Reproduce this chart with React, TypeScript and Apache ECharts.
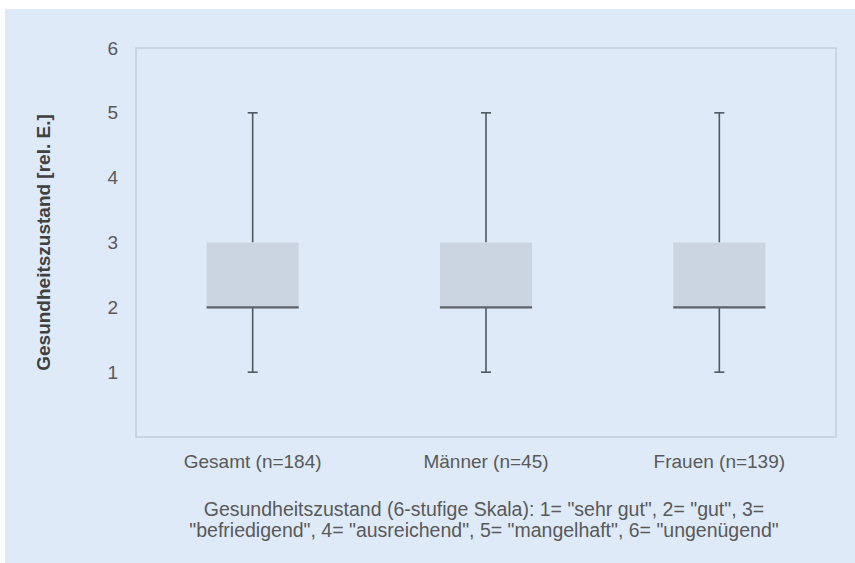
import React, { useEffect, useRef } from "react";
import * as echarts from "echarts";

const categories = ["Gesamt (n=184)", "Männer (n=45)", "Frauen (n=139)"];
const minVals = [1, 1, 1];
const q1Vals = [2, 2, 2];
const medianVals = [2, 2, 2];
const q3Vals = [3, 3, 3];
const maxVals = [5, 5, 5];
const yTicks = [0, 1, 2, 3, 4, 5, 6];
const yAxisTitle = "Gesundheitszustand [rel. E.]";
const footnote = [
  'Gesundheitszustand (6-stufige Skala): 1= "sehr gut", 2= "gut", 3=',
  '"befriedigend", 4= "ausreichend", 5= "mangelhaft", 6= "ungenügend"',
];

export default function App() {
  const ref = useRef<HTMLDivElement>(null);
  useEffect(() => {
    if (!ref.current) return;
    const chart = echarts.init(ref.current, null, { renderer: "svg" });
    const data = categories.map((_, i) => [
      i,
      minVals[i],
      q1Vals[i],
      medianVals[i],
      q3Vals[i],
      maxVals[i],
    ]);
    const font = "'Liberation Sans', Arial, sans-serif";
    chart.setOption({
      animation: false,
      backgroundColor: "#ffffff",
      graphic: [
        {
          type: "rect",
          z: -10,
          silent: true,
          shape: { x: 5, y: 9, width: 850, height: 554 },
          style: { fill: "#deeaf7" },
        },
        {
          type: "text",
          x: 484,
          y: 498,
          style: {
            text: footnote.join("\n"),
            font: `19.5px ${font}`,
            fill: "#595959",
            align: "center",
            verticalAlign: "top",
            lineHeight: 21,
          },
        },
      ],
      grid: {
        left: 136,
        top: 48,
        width: 700,
        height: 389,
        show: true,
        borderColor: "#c3ced9",
        borderWidth: 1.5,
        backgroundColor: "transparent",
      },
      xAxis: {
        type: "category",
        data: categories,
        axisLine: { show: false },
        axisTick: { show: false },
        axisLabel: {
          color: "#595959",
          fontSize: 19,
          fontFamily: font,
          margin: 15,
        },
      },
      yAxis: {
        type: "value",
        min: yTicks[0],
        max: yTicks[yTicks.length - 1],
        interval: 1,
        name: yAxisTitle,
        nameLocation: "middle",
        nameGap: 83,
        nameTextStyle: {
          color: "#404040",
          fontSize: 19,
          fontWeight: "bold",
          fontFamily: font,
        },
        axisLine: { show: false },
        axisTick: { show: false },
        splitLine: { show: false },
        axisLabel: {
          color: "#595959",
          fontSize: 19,
          fontFamily: font,
          margin: 18,
          showMinLabel: false,
        },
      },
      series: [
        {
          type: "custom",
          data,
          encode: { x: 0, y: [1, 2, 3, 4, 5] },
          renderItem: (params: any, api: any) => {
            const i = api.value(0);
            const pMin = api.coord([i, api.value(1)]);
            const pQ1 = api.coord([i, api.value(2)]);
            const pMed = api.coord([i, api.value(3)]);
            const pQ3 = api.coord([i, api.value(4)]);
            const pMax = api.coord([i, api.value(5)]);
            const bw = api.size([1, 0])[0] * 0.395;
            const cx = pMed[0];
            const cap = 10;
            const lineStyle = { stroke: "#4f5861", lineWidth: 1.6 };
            return {
              type: "group",
              children: [
                {
                  type: "line",
                  shape: { x1: cx, y1: pMax[1], x2: cx, y2: pQ3[1] },
                  style: lineStyle,
                },
                {
                  type: "line",
                  shape: { x1: cx, y1: pQ1[1], x2: cx, y2: pMin[1] },
                  style: lineStyle,
                },
                {
                  type: "line",
                  shape: { x1: cx - cap / 2, y1: pMax[1], x2: cx + cap / 2, y2: pMax[1] },
                  style: lineStyle,
                },
                {
                  type: "line",
                  shape: { x1: cx - cap / 2, y1: pMin[1], x2: cx + cap / 2, y2: pMin[1] },
                  style: lineStyle,
                },
                {
                  type: "rect",
                  shape: {
                    x: cx - bw / 2,
                    y: pQ3[1],
                    width: bw,
                    height: pQ1[1] - pQ3[1],
                  },
                  style: { fill: "#cad5e1", stroke: "none" },
                },
                {
                  type: "line",
                  shape: { x1: cx - bw / 2, y1: pMed[1], x2: cx + bw / 2, y2: pMed[1] },
                  style: { stroke: "#5c6268", lineWidth: 2.4 },
                },
              ],
            };
          },
        },
      ],
    });
    return () => chart.dispose();
  }, []);
  return (
    <div
      ref={ref}
      style={{ position: "fixed", left: 0, top: 0, width: 855, height: 563 }}
    />
  );
}
